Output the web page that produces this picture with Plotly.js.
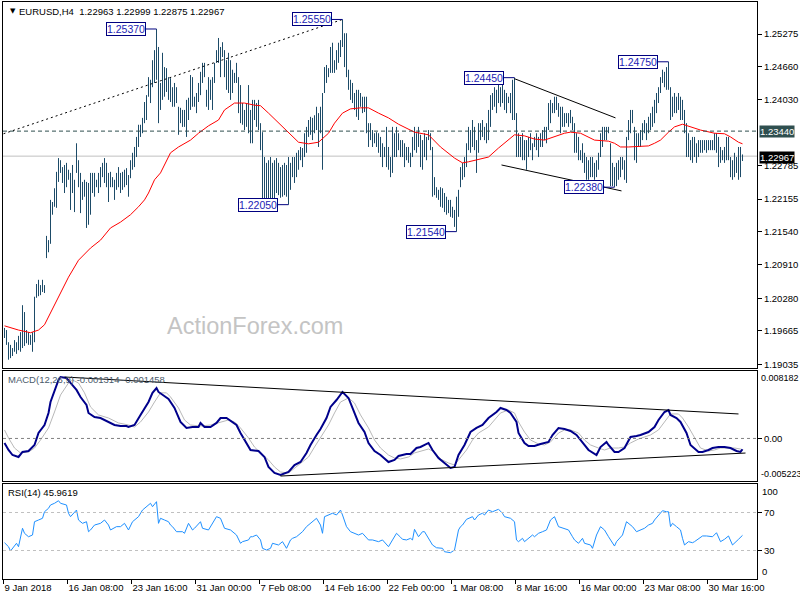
<!DOCTYPE html>
<html><head><meta charset="utf-8">
<script src="https://cdn.plot.ly/plotly-3.0.1.min.js"></script>
<style>html,body{margin:0;padding:0;background:#fff}#chart{width:800px;height:600px}</style>
</head><body><div id="chart"></div><script>
// ---- Price bars (EURUSD H4), bar index 0..369 ----
const hi = [
1.1972,1.1968,1.1945,1.1940,1.1934,1.1949,1.1945,1.1957,1.1964,1.2015,
1.2002,1.1968,1.1964,1.1959,1.1964,1.2031,1.2055,1.2063,1.2053,1.2063,
1.2053,1.2146,1.2138,1.2214,1.2210,1.2236,1.2267,1.2293,1.2289,1.2276,
1.2280,1.2284,1.2271,1.2265,1.2280,1.2252,1.2321,1.2289,1.2265,1.2248,
1.2252,1.2248,1.2246,1.2265,1.2265,1.2265,1.2252,1.2265,1.2276,1.2284,
1.2293,1.2284,1.2265,1.2267,1.2257,1.2252,1.2265,1.2276,1.2265,1.2267,
1.2271,1.2274,1.2261,1.2289,1.2303,1.2314,1.2333,1.2356,1.2356,1.2369,
1.2399,1.2412,1.2446,1.2441,1.2478,1.2497,1.2537,1.2503,1.2435,1.2492,
1.2465,1.2463,1.2446,1.2444,1.2427,1.2435,1.2427,1.2390,1.2388,1.2384,
1.2384,1.2403,1.2407,1.2450,1.2446,1.2409,1.2416,1.2435,1.2456,1.2473,
1.2473,1.2422,1.2446,1.2441,1.2446,1.2473,1.2497,1.2520,1.2503,1.2512,
1.2497,1.2478,1.2492,1.2478,1.2460,1.2454,1.2473,1.2446,1.2431,1.2397,
1.2384,1.2397,1.2431,1.2384,1.2403,1.2403,1.2397,1.2403,1.2359,1.2342,
1.2295,1.2284,1.2289,1.2295,1.2284,1.2289,1.2293,1.2284,1.2276,1.2280,
1.2284,1.2280,1.2295,1.2284,1.2295,1.2295,1.2303,1.2308,1.2314,1.2312,
1.2340,1.2352,1.2365,1.2371,1.2369,1.2374,1.2390,1.2378,1.2390,1.2416,
1.2465,1.2469,1.2463,1.2503,1.2511,1.2478,1.2497,1.2511,1.2516,1.2555,
1.2529,1.2529,1.2460,1.2441,1.2435,1.2416,1.2422,1.2422,1.2416,1.2409,
1.2409,1.2409,1.2359,1.2359,1.2346,1.2340,1.2342,1.2340,1.2333,1.2321,
1.2314,1.2352,1.2314,1.2295,1.2352,1.2340,1.2352,1.2340,1.2327,1.2327,
1.2321,1.2314,1.2314,1.2303,1.2333,1.2352,1.2340,1.2352,1.2337,1.2327,
1.2340,1.2333,1.2346,1.2340,1.2314,1.2257,1.2238,1.2233,1.2238,1.2236,
1.2227,1.2220,1.2214,1.2214,1.2201,1.2195,1.2220,1.2233,1.2276,1.2284,
1.2295,1.2321,1.2352,1.2346,1.2365,1.2352,1.2327,1.2359,1.2359,1.2365,
1.2352,1.2359,1.2384,1.2412,1.2416,1.2427,1.2422,1.2435,1.2427,1.2435,
1.2422,1.2416,1.2409,1.2416,1.2441,1.2445,1.2378,1.2340,1.2333,1.2340,
1.2327,1.2327,1.2333,1.2340,1.2321,1.2333,1.2340,1.2333,1.2340,1.2346,
1.2352,1.2352,1.2397,1.2403,1.2397,1.2409,1.2409,1.2397,1.2390,1.2390,
1.2378,1.2378,1.2378,1.2384,1.2371,1.2359,1.2340,1.2333,1.2308,1.2321,
1.2303,1.2295,1.2289,1.2295,1.2295,1.2284,1.2289,1.2303,1.2340,1.2352,
1.2352,1.2352,1.2352,1.2321,1.2284,1.2276,1.2284,1.2289,1.2295,1.2295,
1.2289,1.2333,1.2365,1.2384,1.2384,1.2352,1.2340,1.2340,1.2346,1.2359,
1.2365,1.2359,1.2371,1.2378,1.2390,1.2403,1.2416,1.2427,1.2446,1.2460,
1.2456,1.2465,1.2475,1.2427,1.2409,1.2416,1.2409,1.2416,1.2409,1.2403,
1.2384,1.2359,1.2340,1.2327,1.2333,1.2333,1.2321,1.2327,1.2327,1.2327,
1.2327,1.2327,1.2327,1.2327,1.2327,1.2340,1.2340,1.2333,1.2314,1.2308,
1.2314,1.2333,1.2333,1.2295,1.2289,1.2303,1.2295,1.2314,1.2314,1.22999
];
const lo = [
1.1953,1.1940,1.1912,1.1915,1.1919,1.1927,1.1923,1.1930,1.1927,1.1934,
1.1938,1.1943,1.1940,1.1940,1.1927,1.1945,1.2029,1.2032,1.2034,1.2040,
1.2038,1.2104,1.2115,1.2131,1.2186,1.2201,1.2199,1.2248,1.2265,1.2246,
1.2227,1.2238,1.2252,1.2195,1.2227,1.2191,1.2265,1.2238,1.2189,1.2214,
1.2220,1.2161,1.2167,1.2186,1.2227,1.2220,1.2238,1.2227,1.2238,1.2257,
1.2246,1.2238,1.2210,1.2238,1.2238,1.2214,1.2233,1.2238,1.2227,1.2233,
1.2238,1.2242,1.2220,1.2255,1.2271,1.2276,1.2295,1.2314,1.2333,1.2340,
1.2359,1.2365,1.2409,1.2397,1.2427,1.2435,1.2441,1.2359,1.2384,1.2403,
1.2409,1.2418,1.2403,1.2399,1.2390,1.2390,1.2397,1.2337,1.2359,1.2352,
1.2352,1.2333,1.2365,1.2384,1.2390,1.2390,1.2378,1.2399,1.2412,1.2435,
1.2446,1.2390,1.2384,1.2403,1.2384,1.2435,1.2473,1.2473,1.2446,1.2484,
1.2446,1.2422,1.2416,1.2403,1.2416,1.2435,1.2435,1.2378,1.2359,1.2356,
1.2346,1.2352,1.2340,1.2321,1.2321,1.2365,1.2352,1.2346,1.2308,1.2214,
1.2214,1.2214,1.2214,1.2214,1.2214,1.2212,1.2227,1.2223,1.2218,1.2220,
1.2223,1.2220,1.2205,1.2233,1.2257,1.2246,1.2257,1.2271,1.2289,1.2276,
1.2295,1.2303,1.2333,1.2337,1.2327,1.2340,1.2346,1.2314,1.2340,1.2271,
1.2416,1.2435,1.2446,1.2454,1.2454,1.2454,1.2460,1.2473,1.2484,1.2503,
1.2465,1.2446,1.2422,1.2403,1.2397,1.2384,1.2371,1.2365,1.2390,1.2378,
1.2380,1.2340,1.2314,1.2327,1.2314,1.2321,1.2314,1.2303,1.2295,1.2276,
1.2295,1.2276,1.2271,1.2257,1.2265,1.2295,1.2295,1.2308,1.2295,1.2295,
1.2276,1.2289,1.2284,1.2276,1.2295,1.2308,1.2303,1.2314,1.2276,1.2271,
1.2295,1.2289,1.2327,1.2308,1.2220,1.2223,1.2218,1.2214,1.2201,1.2199,
1.2191,1.2186,1.2189,1.2182,1.2180,1.2163,1.2154,1.2182,1.2238,1.2252,
1.2257,1.2276,1.2308,1.2303,1.2314,1.2308,1.2265,1.2303,1.2327,1.2333,
1.2327,1.2321,1.2327,1.2352,1.2384,1.2390,1.2378,1.2397,1.2390,1.2397,
1.2384,1.2378,1.2397,1.2378,1.2365,1.2365,1.2295,1.2295,1.2295,1.2289,
1.2289,1.2271,1.2295,1.2308,1.2289,1.2314,1.2308,1.2295,1.2314,1.2314,
1.2327,1.2321,1.2346,1.2359,1.2378,1.2378,1.2384,1.2371,1.2340,1.2352,
1.2352,1.2359,1.2352,1.2359,1.2346,1.2303,1.2303,1.2289,1.2289,1.2284,
1.2265,1.2252,1.2252,1.2257,1.2257,1.2252,1.2257,1.2271,1.2295,1.2314,
1.2327,1.2327,1.2340,1.2240,1.2240,1.2238,1.2240,1.2252,1.2257,1.2271,
1.2252,1.2246,1.2327,1.2340,1.2359,1.2289,1.2284,1.2314,1.2314,1.2327,
1.2340,1.2327,1.2340,1.2346,1.2352,1.2359,1.2378,1.2397,1.2416,1.2435,
1.2427,1.2422,1.2422,1.2365,1.2371,1.2378,1.2378,1.2384,1.2365,1.2365,
1.2340,1.2295,1.2295,1.2289,1.2284,1.2295,1.2284,1.2295,1.2303,1.2303,
1.2308,1.2303,1.2308,1.2308,1.2308,1.2308,1.2303,1.2276,1.2284,1.2289,
1.2284,1.2289,1.2289,1.2257,1.2252,1.2257,1.2265,1.2252,1.2257,1.22875
];

// ---- Moving average (red) ----
const maIdx = [0,7,13,17,20,23,27,32,37,43,48,53,58,63,67,70,72,75,78,83,87,93,97,102,107,110,115,120,125,128,132,137,142,147,152,157,162,165,169,173,178,182,187,192,197,205,212,218,225,229,232,237,242,247,252,255,260,265,270,275,280,283,288,295,302,305,308,312,318,322,325,328,332,335,339,343,348,355,360,363,367,369];
const maVal = [1.1976,1.1968,1.1963,1.1968,1.1978,1.2000,1.2031,1.2068,1.2100,1.2123,1.2138,1.2161,1.2172,1.2186,1.2201,1.2214,1.2227,1.2252,1.2265,1.2303,1.2314,1.2327,1.2340,1.2354,1.2365,1.2384,1.2397,1.2397,1.2393,1.2392,1.2378,1.2359,1.2340,1.2323,1.2320,1.2323,1.2340,1.2359,1.2378,1.2386,1.2388,1.2388,1.2378,1.2369,1.2357,1.2342,1.2337,1.2314,1.2293,1.2284,1.2286,1.2291,1.2295,1.2312,1.2327,1.2337,1.2335,1.2329,1.2327,1.2333,1.2340,1.2342,1.2340,1.2327,1.2325,1.2321,1.2314,1.2314,1.2316,1.2316,1.2321,1.2327,1.2342,1.2352,1.2357,1.2352,1.2346,1.2340,1.2339,1.2333,1.2323,1.2320];

// ---- MACD(12,26,9) ----
const macdIdx = [0,2,4,7,9,12,15,17,20,22,23,25,27,28,31,33,36,38,41,42,45,48,52,55,58,61,62,65,68,72,74,76,77,80,82,85,88,91,94,97,98,100,103,106,108,111,113,116,118,121,123,127,130,132,135,138,142,145,148,151,153,156,158,161,163,166,168,169,172,174,177,180,182,185,188,192,195,197,199,201,203,206,208,212,214,217,220,223,225,227,230,233,236,239,242,246,248,251,253,256,257,260,262,265,268,272,274,277,280,283,286,289,292,296,298,301,302,305,307,310,313,316,318,322,325,327,330,332,333,336,338,341,343,347,349,352,354,357,360,363,366,368,369];
const macdVal = [-0.00055,-0.0014,-0.00201,-0.00225,-0.00164,-0.00152,-0.00079,0.00066,0.00163,0.00309,
0.00442,0.00589,0.00709,0.00745,0.00733,0.00673,0.00589,0.00503,0.00406,0.00309,
0.0026,0.00248,0.002,0.00163,0.00151,0.00151,0.00139,0.00163,0.00285,0.00442,
0.00553,0.00612,0.00564,0.00515,0.00479,0.0037,0.002,0.00127,0.00139,0.00139,
0.00188,0.00139,0.00139,0.00188,0.00248,0.00248,0.00212,0.00163,0.00066,-0.00055,
-0.0014,-0.00152,-0.00225,-0.00346,-0.00419,-0.00443,-0.00407,-0.00322,-0.00286,-0.00176,
-0.00079,0.00042,0.00115,0.00248,0.00382,0.00466,0.00541,0.00564,0.00491,0.0037,
0.00188,0.00078,-0.00055,-0.00152,-0.00201,-0.00286,-0.00261,-0.00213,-0.00201,-0.00189,
-0.00189,-0.00116,-0.00104,-0.00055,-0.0014,-0.00237,-0.00298,-0.00358,-0.00346,-0.00201,
-0.00079,0.00078,0.00127,0.00163,0.00248,0.00321,0.0037,0.00345,0.00309,0.002,
0.00066,-0.00055,-0.00092,-0.00092,-0.00067,-0.00043,0.00042,0.00127,0.00115,0.00091,
0.00042,-0.00055,-0.0014,-0.00201,-0.00104,-0.00043,-0.00079,-0.00164,-0.00164,-0.00116,
0.00018,0.0003,0.00042,0.00078,0.00139,0.00224,0.00321,0.00345,0.00285,0.00248,
0.002,0.00066,-0.00079,-0.00164,-0.00164,-0.0014,-0.00116,-0.00104,-0.00104,-0.00116,
-0.00152,-0.00164,-0.001314];
const sigIdx = [0,2,5,8,12,15,18,22,25,28,32,34,37,40,43,47,52,57,62,65,68,72,75,78,81,83,87,90,93,98,103,108,112,115,118,122,125,128,132,135,138,142,145,148,152,155,158,162,165,168,172,175,178,182,185,188,192,195,198,202,205,208,212,215,218,222,225,227,231,234,237,242,245,248,252,255,257,260,263,267,270,273,277,280,283,287,290,293,297,300,303,307,310,313,317,320,323,327,330,333,337,339,342,345,348,352,355,358,362,365,368,369];
const sigVal = [0.00103,0.00006,-0.00116,-0.00176,-0.00164,-0.00116,-0.00019,0.00127,0.00321,0.00527,
0.00673,0.00709,0.00673,0.00553,0.00382,0.00285,0.00248,0.00188,0.00163,0.00139,
0.002,0.00321,0.00442,0.00553,0.00553,0.00503,0.0037,0.00224,0.00163,0.00151,
0.00163,0.002,0.00224,0.002,0.00127,0.00006,-0.00104,-0.00176,-0.00261,-0.00346,
-0.00407,-0.00419,-0.00358,-0.00298,-0.00225,-0.00104,0.00018,0.00163,0.00309,0.00442,
0.00491,0.0043,0.00285,0.00127,-0.00019,-0.00116,-0.00201,-0.00237,-0.00249,-0.00225,
-0.00176,-0.00152,-0.00128,-0.00164,-0.00249,-0.00298,-0.00322,-0.00261,-0.0014,-0.00019,
0.00066,0.00139,0.00224,0.00309,0.00345,0.00309,0.002,0.00078,-0.00019,-0.00067,
-0.00079,-0.00043,0.00066,0.00103,0.00103,0.00066,-0.00019,-0.00079,-0.00116,-0.0014,
-0.00116,-0.00116,-0.00104,-0.00055,-0.00007,0.00018,0.00042,0.00103,0.002,0.00297,
0.00297,0.00248,0.00139,0.00006,-0.00116,-0.00152,-0.0014,-0.00116,-0.00116,-0.00116,
-0.00128,-0.001458];

// ---- RSI(14) ----
const rsiIdx = [0,2,3,5,6,7,9,10,12,14,15,17,19,20,22,23,25,27,28,31,32,33,35,36,37,39,41,42,43,45,48,50,52,53,56,58,60,62,64,67,69,72,73,74,76,77,78,80,82,83,84,86,89,90,92,94,95,98,99,102,104,106,108,110,113,116,118,119,122,123,124,126,128,129,131,133,134,137,139,141,143,144,146,148,149,151,153,154,156,158,159,160,162,164,166,168,169,171,173,175,177,179,182,184,187,189,192,194,196,198,199,201,203,204,205,207,209,210,212,214,216,219,220,223,225,227,228,229,231,234,235,237,239,240,242,244,247,249,250,253,255,256,257,259,260,262,264,265,267,269,271,273,275,277,279,282,284,285,287,289,290,293,294,296,298,300,302,304,305,306,309,311,314,316,318,320,322,324,325,327,329,331,332,333,334,336,338,339,340,342,344,345,349,351,354,356,358,360,362,364,365,367,369];
const rsiVal = [38.2,34.0,29.5,35.8,37.6,34.0,53.4,48.1,44.5,46.3,
60.3,62.1,63.9,70.8,74.4,77.9,79.7,82.4,79.7,77.9,
69.2,65.6,70.8,72.6,62.1,58.6,60.3,49.8,51.6,56.8,
58.6,62.1,56.8,51.6,55.1,55.1,58.6,51.6,60.3,65.6,
72.6,77.9,79.7,76.1,81.4,58.6,63.9,62.1,60.3,56.8,
55.1,49.8,49.8,48.1,58.6,51.6,53.4,60.3,53.4,51.6,
58.6,65.6,63.9,53.4,51.6,46.3,37.6,39.3,41.1,44.5,
44.5,46.3,41.1,32.3,30.5,32.3,37.6,35.8,39.3,32.3,
41.1,42.8,44.5,48.1,49.8,55.1,58.6,60.3,63.9,56.8,
48.1,65.6,67.4,69.2,67.4,72.6,67.4,55.1,49.8,48.1,
46.3,48.1,41.1,41.1,39.3,41.1,34.0,41.1,48.1,44.0,
41.8,41.1,42.8,41.1,52.3,44.5,49.8,49.8,42.8,35.8,
32.9,32.3,28.7,27.7,30.5,51.6,55.1,56.8,62.8,65.6,
62.1,67.4,69.2,67.4,72.6,70.8,73.4,69.2,65.6,63.9,
60.3,41.1,39.3,42.8,39.3,42.8,46.3,44.5,48.1,49.8,
51.6,62.1,65.6,55.1,53.4,51.6,44.5,41.1,37.6,42.8,
37.6,35.8,32.3,46.3,55.1,51.6,44.5,37.6,34.7,39.3,
46.3,60.3,55.1,49.8,51.6,53.4,56.8,58.6,62.1,67.4,
71.9,70.8,70.8,55.1,58.6,55.1,51.6,42.8,35.8,39.3,
38.2,39.3,45.3,45.3,44.5,48.7,39.3,41.8,45.3,35.8,
37.6,41.8,45.96];

// ---- Axis ticks / labels ----
const xTickBars = [0,32,64,96,128,160,192,224,256,288,320,352];
const xTickText = ['9 Jan 2018','16 Jan 08:00','23 Jan 16:00','31 Jan 00:00','7 Feb 08:00','14 Feb 16:00','22 Feb 00:00','1 Mar 08:00','8 Mar 16:00','16 Mar 00:00','23 Mar 08:00','30 Mar 16:00'];
const priceTicks = [1.25275,1.24660,1.24030,1.22785,1.22155,1.21540,1.20910,1.20280,1.19665,1.19035];
const rsiTicks = [70,30];

// ---- Marked swing highs / lows ----
const labelIdx = [76,169,142,226,255,305,332];
const labelPrice = [1.2537,1.2555,1.2205,1.2154,1.2445,1.2238,1.2475];

// ---- Levels and trend lines ----
const lastOHLC = [1.22963,1.22999,1.22875,1.22967];
const resistLevel = 1.2344;
const riseX = [-0.5,169], riseP = [1.2339,1.2555];
const fallHiX = [255,305.5], fallHiP = [1.2443,1.2369];
const fallLoX = [248.5,308.5], fallLoP = [1.2280,1.2231];
const macdTopX = [30,367], macdTopV = [0.00745,0.00297];
const macdBotX = [138,370.5], macdBotV = [-0.00456,-0.00177];
const macdLast = [-0.001314,-0.001458];
const macdScale = [0.008182,-0.005223];
const rsiLast = 45.9619;

const F = 'Liberation Sans, Arial, sans-serif';
const bx = [], by = [];
hi.forEach((h, i) => { bx.push(i, i, null); by.push(lo[i], h, null); });

const traces = [
  {type:'scatter', mode:'lines', x:bx, y:by, xaxis:'x', yaxis:'y', line:{color:'#1d4b68', width:1}, hoverinfo:'skip'},
  {type:'scatter', mode:'lines', x:maIdx, y:maVal, xaxis:'x', yaxis:'y', line:{color:'#ff0000', width:1}, hoverinfo:'skip'},
  {type:'scatter', mode:'lines', x:sigIdx, y:sigVal, xaxis:'x2', yaxis:'y2', line:{color:'#b8b8b8', width:1}, hoverinfo:'skip'},
  {type:'scatter', mode:'lines', x:macdIdx, y:macdVal, xaxis:'x2', yaxis:'y2', line:{color:'#00008b', width:2}, hoverinfo:'skip'},
  {type:'scatter', mode:'lines', x:rsiIdx, y:rsiVal, xaxis:'x3', yaxis:'y3', line:{color:'#1e90ff', width:1}, hoverinfo:'skip'}
];

const ax = {showgrid:false, zeroline:false, showline:true, mirror:true, linecolor:'#000', linewidth:1};
const tf = {family:F, size:9.5, color:'#000'};
const tfs = {family:F, size:9, color:'#000'};

const shapes = [
  {type:'line', xref:'paper', yref:'y', x0:0, x1:1, y0:lastOHLC[3], y1:lastOHLC[3], line:{color:'#c0c0c0', width:1}, layer:'below'},
  {type:'line', xref:'paper', yref:'y', x0:0, x1:1, y0:resistLevel, y1:resistLevel, line:{color:'#2f4f4f', width:1, dash:'4px,3px'}},
  {type:'line', xref:'x', yref:'y', x0:riseX[0], x1:riseX[1], y0:riseP[0], y1:riseP[1], line:{color:'#000', width:1, dash:'2px,3px'}},
  {type:'line', xref:'x', yref:'y', x0:fallHiX[0], x1:fallHiX[1], y0:fallHiP[0], y1:fallHiP[1], line:{color:'#000', width:1}},
  {type:'line', xref:'x', yref:'y', x0:fallLoX[0], x1:fallLoX[1], y0:fallLoP[0], y1:fallLoP[1], line:{color:'#000', width:1}},
  {type:'line', xref:'paper', yref:'y2', x0:0, x1:1, y0:0, y1:0, line:{color:'#808080', width:1, dash:'3px,3px'}},
  {type:'line', xref:'x', yref:'y2', x0:macdTopX[0], x1:macdTopX[1], y0:macdTopV[0], y1:macdTopV[1], line:{color:'#000', width:1}},
  {type:'line', xref:'x', yref:'y2', x0:macdBotX[0], x1:macdBotX[1], y0:macdBotV[0], y1:macdBotV[1], line:{color:'#000', width:1}},
  {type:'line', xref:'paper', yref:'y3', x0:0, x1:1, y0:70, y1:70, line:{color:'#c0c0c0', width:1, dash:'3px,3px'}},
  {type:'line', xref:'paper', yref:'y3', x0:0, x1:1, y0:30, y1:30, line:{color:'#c0c0c0', width:1, dash:'3px,3px'}}
];

const annotations = [
  {xref:'paper', yref:'paper', x:0.006, y:1, xanchor:'left', yanchor:'top', yshift:-3, showarrow:false, text:'▼', font:{family:'DejaVu Sans', size:7, color:'#000'}},
  {xref:'paper', yref:'paper', x:0.0185, y:1, xanchor:'left', yanchor:'top', yshift:-2, showarrow:false,
   text:'EURUSD,H4  ' + lastOHLC.map(v => v.toFixed(5)).join(' '), font:tf},
  {xref:'paper', yref:'y2 domain', x:0.004, y:1, xanchor:'left', yanchor:'top', yshift:-1, showarrow:false,
   text:'MACD(12,26,9) ' + macdLast[0].toFixed(6) + ' ' + macdLast[1].toFixed(6), font:{family:F, size:9.5, color:'#4a5a6a'}},
  {xref:'paper', yref:'y3 domain', x:0.004, y:1, xanchor:'left', yanchor:'top', yshift:-1, showarrow:false,
   text:'RSI(14) ' + rsiLast.toFixed(4), font:tf},
  {xref:'paper', yref:'y', x:0.334, y:1.1976, xanchor:'center', yanchor:'middle', showarrow:false,
   text:'ActionForex.com', font:{family:F, size:23.5, color:'#c4c4c4'}},
  {xref:'paper', yref:'y', x:1, y:resistLevel, xanchor:'left', yanchor:'middle', xshift:2, showarrow:false,
   text:resistLevel.toFixed(5), bgcolor:'#2f4f4f', borderpad:0, font:{family:F, size:9.5, color:'#ffffff'}},
  {xref:'paper', yref:'y', x:1, y:lastOHLC[3], xanchor:'left', yanchor:'middle', xshift:2, yshift:-1, showarrow:false,
   text:lastOHLC[3].toFixed(5), bgcolor:'#000000', borderpad:0, font:{family:F, size:9.5, color:'#ffffff'}},
  {xref:'paper', yref:'y2 domain', x:1, y:1, xanchor:'left', yanchor:'top', xshift:2, showarrow:false, text:macdScale[0].toFixed(6), font:tfs},
  {xref:'paper', yref:'y2 domain', x:1, y:0, xanchor:'left', yanchor:'bottom', xshift:2, showarrow:false, text:macdScale[1].toFixed(6), font:tfs},
  {xref:'paper', yref:'y3 domain', x:1, y:1, xanchor:'left', yanchor:'top', xshift:3, showarrow:false, text:'100', font:tf},
  {xref:'paper', yref:'y3 domain', x:1, y:0, xanchor:'left', yanchor:'bottom', xshift:3, showarrow:false, text:'0', font:tf}
];
labelIdx.forEach((i, k) => {
  annotations.push({xref:'x', yref:'y', x:i, y:labelPrice[k], text:labelPrice[k].toFixed(5),
    showarrow:true, ax:-31, ay:0, arrowhead:0, arrowwidth:1, arrowcolor:'#000080',
    bordercolor:'#000080', borderwidth:1, borderpad:0, bgcolor:'#ffffff',
    font:{family:F, size:10.5, color:'#1c1cb4'}});
});

const layout = {
  width:800, height:600, margin:{l:3, r:43, t:2, b:21, pad:0},
  paper_bgcolor:'#ffffff', plot_bgcolor:'#ffffff', showlegend:false,
  xaxis:{...ax, domain:[0,1], range:[-0.75,376.25], anchor:'y', showticklabels:false, ticks:''},
  xaxis2:{...ax, matches:'x', anchor:'y2', showticklabels:false, ticks:''},
  xaxis3:{...ax, matches:'x', anchor:'y3', tickvals:xTickBars.map(b => b - 0.5), ticktext:xTickText,
    ticks:'outside', ticklen:4, tickcolor:'#000', ticklabelposition:'outside right', tickangle:0, tickfont:tf},
  yaxis:{...ax, domain:[0.36568,1], range:[1.18963,1.2588], side:'right', anchor:'x',
    tickvals:priceTicks, ticktext:priceTicks.map(v => v.toFixed(5)), ticks:'outside', ticklen:4, tickcolor:'#000', tickfont:tf},
  yaxis2:{...ax, domain:[0.16898,0.36049], range:[macdScale[1],macdScale[0]], side:'right', anchor:'x2',
    tickvals:[0], ticktext:['0.00'], ticks:'outside', ticklen:4, tickcolor:'#000', tickfont:tf},
  yaxis3:{...ax, domain:[0,0.16464], range:[0,100], side:'right', anchor:'x3',
    tickvals:rsiTicks, ticktext:rsiTicks.map(String), ticks:'outside', ticklen:4, tickcolor:'#000', tickfont:tf},
  shapes:shapes, annotations:annotations
};

Plotly.newPlot('chart', traces, layout, {staticPlot:true, displayModeBar:false});
</script></body></html>
